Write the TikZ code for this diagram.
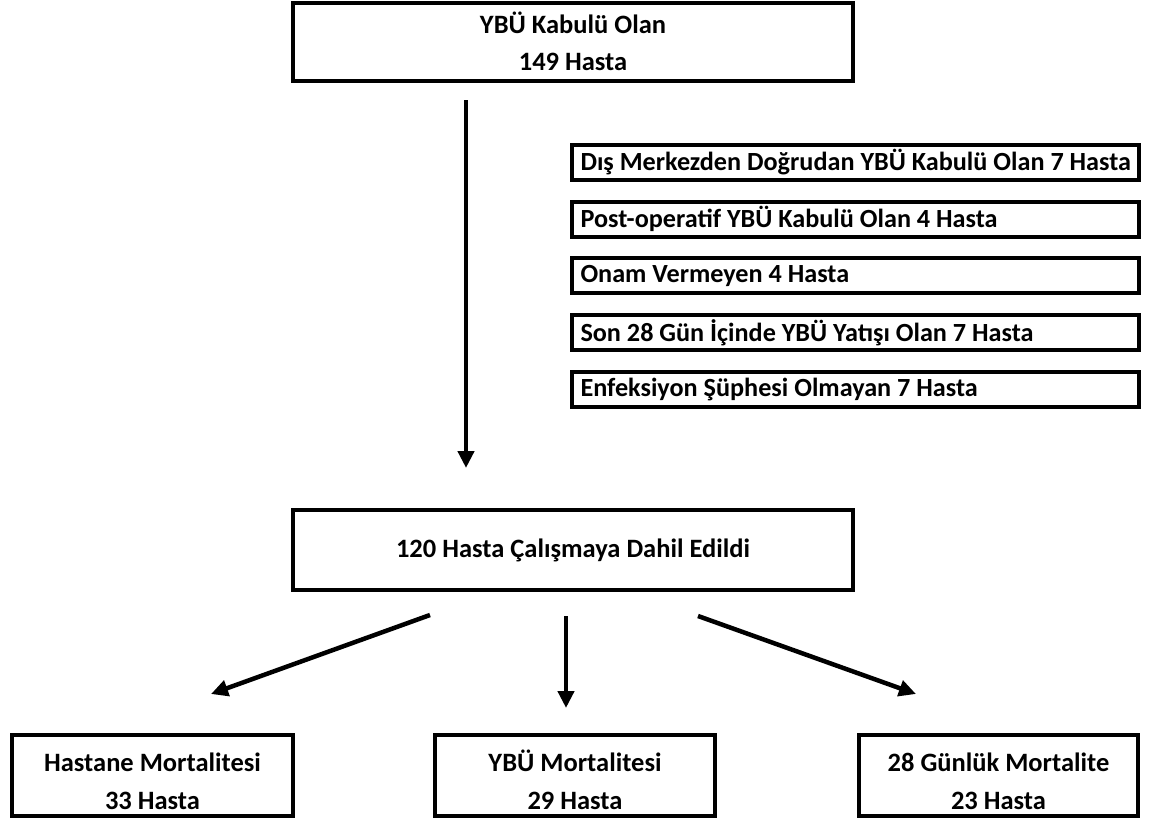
\documentclass[tikz,border=0pt]{standalone}
\usepackage{fontspec}
\setmainfont{Carlito}
\usetikzlibrary{arrows.meta}
\tikzset{
  frame/.style={draw=black, line width=4pt, fill=white, inner sep=0pt},
  box/.style={frame, font=\bfseries\fontsize{26.5}{37}\selectfont, align=center},
  lbl/.style={inner sep=0pt, font=\bfseries\fontsize{26.5}{38}\selectfont, align=center},
  exbox/.style={frame, font=\bfseries\fontsize{26.2}{30}\selectfont, minimum width=567pt, minimum height=35pt},
  arr/.style={line width=4.5pt, -{Triangle[length=17pt,width=16pt]}},
}
\newcommand{\extext}[1]{\makebox[550pt][l]{#1}}
\newcommand{\hstrut}{\vphantom{Ü}}
\begin{document}
\begin{tikzpicture}[x=1pt,y=-1pt]
\useasboundingbox (0,0) rectangle (1149,823);
\node[box, minimum width=560pt, minimum height=78pt] (top) at (573,41.5) {YBÜ Kabulü Olan\\149 Hasta};
\node[exbox] (ex1) at (855.5,162.5) {\extext{Dış Merkezden Doğrudan YBÜ Kabulü Olan 7 Hasta}};
\node[exbox] (ex2) at (855.5,219) {\extext{Post-operatif YBÜ Kabulü Olan 4 Hasta}};
\node[exbox] (ex3) at (855.5,275.5) {\extext{Onam Vermeyen 4 Hasta}};
\node[exbox] (ex4) at (855.5,332.5) {\extext{Son 28 Gün İçinde YBÜ Yatışı Olan 7 Hasta}};
\node[exbox] (ex5) at (855.5,389.5) {\extext{Enfeksiyon Şüphesi Olmayan 7 Hasta}};
\node[box, minimum width=560pt, minimum height=80pt] (mid) at (573,550) {120 Hasta Çalışmaya Dahil Edildi};
\node[frame, minimum width=281pt, minimum height=81pt] (b1) at (152.5,775.5) {};
\node[frame, minimum width=280pt, minimum height=81pt] (b2) at (575,775.5) {};
\node[frame, minimum width=279pt, minimum height=81pt] (b3) at (998.5,775.5) {};
\node[lbl, yshift=-4pt] (b1t) at (b1.center) {\hstrut Hastane Mortalitesi\\33 Hasta};
\node[lbl, yshift=-4pt] (b2t) at (b2.center) {\hstrut YBÜ Mortalitesi\\29 Hasta};
\node[lbl, yshift=-4pt] (b3t) at (b3.center) {\hstrut 28 Günlük Mortalite\\23 Hasta};
\coordinate (a0s) at (466,100);
\coordinate (a0e) at (466,468);
\coordinate (a1s) at (430,615);
\coordinate (a1e) at (211,694);
\coordinate (a2s) at (566,616);
\coordinate (a2e) at (566,708);
\coordinate (a3s) at (698,616);
\coordinate (a3e) at (916,694);
\draw[arr] (a0s) -- (a0e);
\draw[arr] (a1s) -- (a1e);
\draw[arr] (a2s) -- (a2e);
\draw[arr] (a3s) -- (a3e);
\end{tikzpicture}
\end{document}
